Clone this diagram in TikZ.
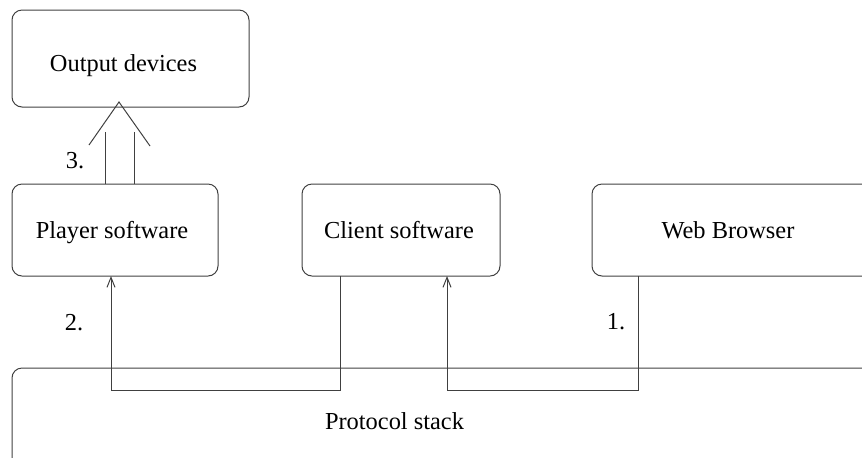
\documentclass[tikz,border=0pt]{standalone}
\usepackage{fontspec}
\setmainfont{Liberation Serif}
\usetikzlibrary{arrows.meta}
\begin{document}
\begin{tikzpicture}[x=0.5pt,y=-0.5pt,
  line width=0.5pt,
  box/.style={draw=black!75,rounded corners=5pt},
  lbl/.style={anchor=base,inner sep=0pt,font=\fontsize{12.2}{14}\selectfont},
  link/.style={draw=black!75},
  linkarrow/.style={link,-{Straight Barb[length=5pt,width=4pt,line width=0.5pt]}}]
\useasboundingbox (0,0) rectangle (862,457);
\clip (0,0) rectangle (862,457);

% boxes
\path[box] (12,10) rectangle (249,107);
\path[box] (12,184) rectangle (218,276);
\path[box] (302,184) rectangle (500,276);
\path[box] (592,184) rectangle (900,276);
\path[box] (12,368) rectangle (920,470);

% named anchors on the boxes
\coordinate (out) at (119,102);
\coordinate (playTopL) at (105,184);
\coordinate (playTopR) at (134,184);
\coordinate (playBot) at (111,276);
\coordinate (cliBotOut) at (340,276);
\coordinate (cliBotIn) at (447,276);
\coordinate (webBot) at (638,276);

% box labels
\node[lbl] (tOut) at (123.5,71.7) {Output devices};
\node[lbl] (tPlay) at (112,238.3) {Player software};
\node[lbl] (tCli) at (399,238) {Client software};
\node[lbl] (tWeb) at (728,238) {Web Browser};
\node[lbl] (tStack) at (394.5,429) {Protocol stack};

% step numbers
\node[lbl] (n1) at (616,329) {1.};
\node[lbl] (n2) at (74,330) {2.};
\node[lbl] (n3) at (75,168.5) {3.};

% 1. web browser -> client software
\draw[linkarrow] (webBot) |- (447,390) -- (cliBotIn);
% 2. client software -> player software
\draw[linkarrow] (cliBotOut) |- (111,390) -- (playBot);
% 3. player software => output devices (hollow wide arrow)
\draw[link] (playTopL) -- (105,132);
\draw[link] (playTopR) -- (134,132);
\draw[link] (89,145) -- (out) -- (150,146);
\end{tikzpicture}
\end{document}
